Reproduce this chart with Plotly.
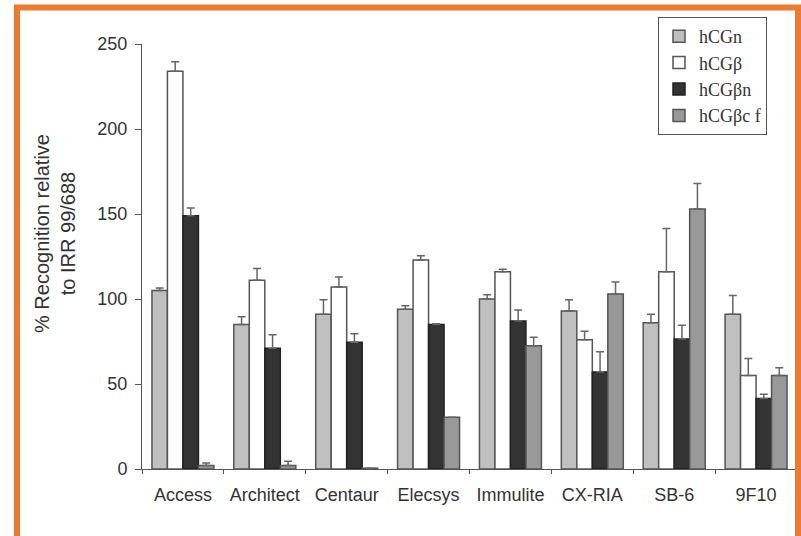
import plotly.graph_objects as go

categories = ["Access", "Architect", "Centaur", "Elecsys", "Immulite", "CX-RIA", "SB-6", "9F10"]
series_names = ["hCGn", "hCGβ", "hCGβn", "hCGβc f"]

hcgn = [105, 85, 91, 94, 100, 93, 86, 91]
hcgn_err = [1.5, 4.5, 8.5, 2, 2.5, 6.5, 5, 11]
hcgb = [234, 111, 107, 123, 116, 76, 116, 55]
hcgb_err = [5.5, 7, 6, 2.5, 1.5, 5, 25.5, 10]
hcgbn = [149, 71, 74.5, 85, 87, 57, 76.5, 41.5]
hcgbn_err = [4.5, 8, 5, 0.5, 6.5, 12, 8, 2.5]
hcgbcf = [2, 2, 0.5, 30.5, 72.5, 103, 153, 55]
hcgbcf_err = [1.5, 2.5, 0, 0, 5, 7, 15, 4.5]

y_ticks = [0, 50, 100, 150, 200, 250]

values = [hcgn, hcgb, hcgbn, hcgbcf]
errors = [hcgn_err, hcgb_err, hcgbn_err, hcgbcf_err]
fills = ["#c0c0c0", "#ffffff", "#333333", "#999999"]
edges = ["#555555", "#555555", "#222222", "#555555"]

W, H = 801, 536
ML, MR, MT, MB = 142, 4, 44, 67
PW, PH = W - ML - MR, H - MT - MB

def px_x(p):
    return (p - ML) / PW

def px_y(p):
    return (H - MB - p) / PH

fig = go.Figure()
for name, v, e, fc, ec in zip(series_names, values, errors, fills, edges):
    fig.add_trace(go.Bar(
        name=name, x=categories, y=v,
        marker=dict(color=fc, line=dict(color=ec, width=1.5)),
        error_y=dict(type="data", symmetric=False, array=e, arrayminus=[0] * len(e),
                     color="#666666", thickness=1.5, width=4),
    ))

fig.update_layout(
    width=W, height=H,
    margin=dict(l=ML, r=MR, t=MT, b=MB),
    paper_bgcolor="white", plot_bgcolor="white",
    barmode="group", bargap=0.243, bargroupgap=0,
    font=dict(family="Liberation Sans, Arial, sans-serif", size=18, color="#333333"),
    showlegend=True,
    legend=dict(
        x=px_x(658), y=px_y(17), xanchor="left", yanchor="top",
        bgcolor="white", bordercolor="#555555", borderwidth=1,
        font=dict(family="Liberation Serif, Times New Roman, serif", size=18, color="#333333"),
        itemwidth=30,
    ),
    xaxis=dict(
        showline=True, linecolor="#555555", linewidth=1,
        ticks="outside", ticklen=4, tickcolor="#555555", tickson="boundaries",
        showgrid=False, zeroline=False,
        tickfont=dict(size=18, color="#333333"),
        ticklabelstandoff=9,
    ),
    yaxis=dict(
        range=[0, 250], tickvals=y_ticks,
        showline=True, linecolor="#555555", linewidth=1,
        ticks="outside", ticklen=6, tickcolor="#555555",
        showgrid=False, zeroline=False,
        tickfont=dict(size=18, color="#333333"),
        ticklabelstandoff=4,
    ),
    annotations=[dict(
        text="% Recognition relative<br>to IRR 99/688",
        xref="paper", yref="paper", x=px_x(55), y=px_y(234),
        xanchor="center", yanchor="middle", textangle=-90, showarrow=False,
        font=dict(family="Liberation Sans, Arial, sans-serif", size=20, color="#333333"),
    )],
    shapes=[dict(
        type="rect", xref="paper", yref="paper", layer="above",
        x0=px_x(17), x1=px_x(798), y0=px_y(560), y1=px_y(7.5),
        line=dict(color="#EE7A2F", width=6),
    )],
)

fig.write_html(
    "out.html",
    config={"displayModeBar": False},
    post_script="document.body.style.margin='0';document.body.style.overflow='hidden';",
)
